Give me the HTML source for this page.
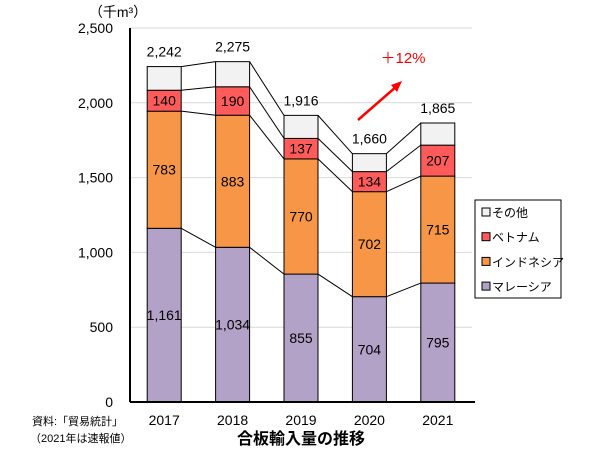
<!DOCTYPE html>
<html><head><meta charset="utf-8"><style>
body{margin:0;background:#fff;}
svg{display:block;font-family:"Liberation Sans","Noto Sans CJK JP",sans-serif;}
</style></head><body>
<svg id="chart" width="600" height="450"></svg>
<script>
const years=["2017","2018","2019","2020","2021"];
const malaysia=[1161,1034,855,704,795];
const indonesia=[783,883,770,702,715];
const vietnam=[140,190,137,134,207];
const totals=[2242,2275,1916,1660,1865];
const yTicks=[0,500,1000,1500,2000,2500];
const yTickLabels=["0","500","1,000","1,500","2,000","2,500"];
const seriesNames=["その他","ベトナム","インドネシア","マレーシア"];

const NS="http://www.w3.org/2000/svg";
const svg=document.getElementById("chart");
const X0=130,X1=472,Y0=402,Y1=28,YMAX=2500;
const band=(X1-X0)/years.length,bw=34;
const y=v=>Y0-(v/YMAX)*(Y0-Y1);
const xc=i=>X0+band*(i+0.5);
function el(tag,attrs,parent){const e=document.createElementNS(NS,tag);for(const k in attrs)e.setAttribute(k,attrs[k]);(parent||svg).appendChild(e);return e;}
function txt(x,yy,s,attrs){const t=el("text",Object.assign({x:x,y:yy,"text-anchor":"middle","font-size":13,fill:"#000"},attrs||{}));t.textContent=s;return t;}

yTicks.forEach((v,k)=>{
  if(v>0){const g=el("line",{x1:X0,x2:X1,y1:y(v),y2:y(v),stroke:"#d9d9d9","stroke-width":1});
  
  }
  const t=txt(113,y(v)+5,yTickLabels[k],{"text-anchor":"end","font-size":14});
  
  
});
const unit=txt(118,17,"（千m³）",{"font-size":14,"text-anchor":"middle"});



const colors=["#b3a2c7","#f79646","#ff5b5b","#f2f2f2"];
const stacks=years.map((_,i)=>{const o=totals[i]-malaysia[i]-indonesia[i]-vietnam[i];return [malaysia[i],indonesia[i],vietnam[i],o];});
const segNames=["malaysia","indonesia","vietnam","other"];
for(let i=0;i<years.length-1;i++){
  let c1=0,c2=0;
  for(let s=0;s<4;s++){
    c1+=stacks[i][s];c2+=stacks[i+1][s];
    const l=el("line",{x1:xc(i)+bw/2,y1:y(c1),x2:xc(i+1)-bw/2,y2:y(c2),stroke:"#000","stroke-width":1});
    
    
  }
}
years.forEach((yr,i)=>{
  let cum=0;
  stacks[i].forEach((v,s)=>{
    const r=el("rect",{x:xc(i)-bw/2,y:y(cum+v),width:bw,height:y(cum)-y(cum+v),fill:colors[s],stroke:"#000","stroke-width":1});
    
    
    if(s<3){const t=txt(xc(i),(y(cum)+y(cum+v))/2+5,v.toLocaleString("en-US"),{"font-size":14});
      
      }
    cum+=v;
  });
  const tl=txt(xc(i),y(totals[i])-10,totals[i].toLocaleString("en-US"),{"font-size":14});
  
  
  const xl=txt(xc(i),425,yr,{"font-size":14});
  
  
});
const ax=el("line",{x1:X0,x2:X0,y1:Y1,y2:Y0,stroke:"#000","stroke-width":2});


const axx=el("line",{x1:X0,x2:X1+3,y1:Y0,y2:Y0,stroke:"#000","stroke-width":2});



const ar=el("line",{x1:358,y1:120,x2:397,y2:86,stroke:"#ff0000","stroke-width":2.5});


const ah=el("polygon",{points:"402,81 391,85 397,92",fill:"#ff0000"});


const gl=txt(403,63,"＋12%",{"font-size":15,fill:"#ff0000"});



const lg=el("rect",{x:475,y:200,width:86,height:98,fill:"#fff",stroke:"#000","stroke-width":1});


const legColors=[colors[3],colors[2],colors[1],colors[0]];
seriesNames.forEach((n,k)=>{
  const yy=212+k*24.7;
  const b=el("rect",{x:482,y:yy-4,width:8,height:8,fill:legColors[k],stroke:"#000","stroke-width":1});
  
  
  const t=txt(492,yy+5,n,{"text-anchor":"start","font-size":12});
  
  
});

const s1=txt(32,425,"資料:「貿易統計」",{"text-anchor":"start","font-size":11});


const s2=txt(30,442,"（2021年は速報値）",{"text-anchor":"start","font-size":11});


const ti=txt(301,444,"合板輸入量の推移",{"font-size":16,"font-weight":"bold"});


</script>
</body></html>
